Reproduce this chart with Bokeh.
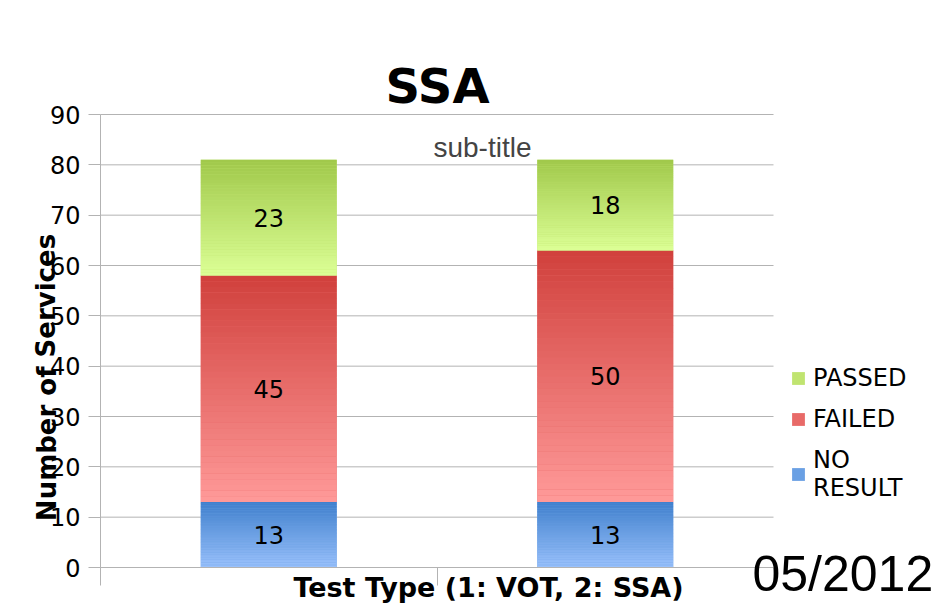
from bokeh.plotting import figure
from bokeh.models import Range1d, FixedTicker, Label, Legend, LegendItem, ColumnDataSource
from bokeh.embed import file_html
from bokeh.resources import INLINE
from bokeh.core.properties import value

# ---- data ----
categories = ["1", "2"]
no_result = [13, 13]
failed = [45, 50]
passed = [23, 18]
series_names = ["NO RESULT", "FAILED", "PASSED"]
y_ticks = [0, 10, 20, 30, 40, 50, 60, 70, 80, 90]
chart_title = "SSA"
sub_title = "sub-title"
x_title = "Test Type (1: VOT, 2: SSA)"
y_title = "Number of Services"
date_text = "05/2012"

# ---- style / layout ----
W, H = 951, 613
PLOT_L, PLOT_R, PLOT_T, PLOT_B = 100, 773, 114, 567   # plot area in canvas pixels
colors_top = ["#3f7fcc", "#d0403c", "#a0c84a"]
colors_bot = ["#9bc2fc", "#ff9a99", "#dcff96"]
colors_mid = ["#6aa0e4", "#e86a68", "#c0e470"]
BAR_W = 0.404
N_SLICES = 40
GRAY = "#b3b3b3"


def mix(c1, c2, t):
    a = [int(c1[i:i + 2], 16) for i in (1, 3, 5)]
    b = [int(c2[i:i + 2], 16) for i in (1, 3, 5)]
    return "#%02x%02x%02x" % tuple(round(a[k] + (b[k] - a[k]) * t) for k in range(3))


n_cat = len(categories)
y_max = y_ticks[-1]
xpx = (PLOT_R - PLOT_L) / n_cat          # pixels per category
ypx = (PLOT_B - PLOT_T) / y_max          # pixels per unit
x_range = Range1d(-PLOT_L / xpx, (W - PLOT_L) / xpx)
y_range = Range1d(-(H - PLOT_B) / ypx, y_max + PLOT_T / ypx)

p = figure(width=W, height=H, x_range=x_range, y_range=y_range,
           output_backend="svg", toolbar_location=None, min_border=0)
p.title = None
p.outline_line_color = None
p.background_fill_color = "white"
p.border_fill_color = "white"
p.xgrid.grid_line_color = None
p.ygrid.grid_line_color = None

# horizontal grid lines across the plot area
p.segment(x0=[0] * len(y_ticks), x1=[n_cat] * len(y_ticks), y0=y_ticks, y1=y_ticks,
          line_color=GRAY, line_width=1, level="underlay")

xs = [i + 0.5 for i in range(n_cat)]
stack = [no_result, failed, passed]

legend_items = []
bottoms = [0] * n_cat
for s, vals in enumerate(stack):
    tops = [b + v for b, v in zip(bottoms, vals)]
    r = p.vbar(x=xs, bottom=bottoms, top=tops, width=BAR_W,
               fill_color=colors_mid[s], line_color=None)
    gx, gb, gt, gc = [], [], [], []
    for i in range(n_cat):
        for k in range(N_SLICES):
            gx.append(xs[i])
            gb.append(bottoms[i] + vals[i] * k / N_SLICES)
            gt.append(bottoms[i] + vals[i] * (k + 1) / N_SLICES + 0.02)
            gc.append(mix(colors_bot[s], colors_top[s], (k + 0.5) / N_SLICES))
    src = ColumnDataSource(dict(x=gx, bottom=gb, top=gt, color=gc))
    p.vbar(x="x", bottom="bottom", top="top", width=BAR_W, fill_color="color",
           line_color=None, source=src)
    p.text(x=xs, y=[b + v / 2 for b, v in zip(bottoms, vals)], text=[str(v) for v in vals],
           text_align="center", text_baseline="middle", text_font=value("DejaVu Sans"),
           text_font_size="24px", text_color="black")
    legend_items.append(LegendItem(label=series_names[s], renderers=[r]))
    bottoms = tops

# axes drawn at data zero
yax = p.yaxis[0]
yax.fixed_location = 0
yax.bounds = (0, y_max)
yax.ticker = FixedTicker(ticks=y_ticks)
yax.major_tick_out = 12
yax.major_tick_in = 0
yax.minor_tick_line_color = None
yax.axis_line_color = GRAY
yax.major_tick_line_color = GRAY
yax.major_label_text_font = "DejaVu Sans"
yax.major_label_text_font_size = "24px"
yax.major_label_text_color = "black"
yax.major_label_standoff = 8

xax = p.xaxis[0]
xax.fixed_location = 0
xax.bounds = (0, n_cat)
xax.ticker = FixedTicker(ticks=list(range(n_cat + 1)))
xax.major_tick_out = 18
xax.major_tick_in = 0
xax.minor_tick_line_color = None
xax.axis_line_color = GRAY
xax.major_tick_line_color = GRAY
xax.major_label_overrides = {i: "" for i in range(n_cat + 1)}

# legend
legend_items[0].label = value("NO\nRESULT")
legend = Legend(items=list(reversed(legend_items)), location=(790, H - 502),
                orientation="vertical", padding=0, margin=0, spacing=13,
                glyph_width=16, glyph_height=16, label_standoff=7,
                border_line_color=None, background_fill_alpha=0,
                label_text_font="DejaVu Sans", label_text_font_size="24px",
                label_text_color="black")
p.add_layout(legend, "center")

# texts (screen units: pixels from bottom-left of the canvas)
p.add_layout(Label(x=437, y=H - 85, x_units="screen", y_units="screen", text=chart_title,
                   text_align="center", text_baseline="middle",
                   text_font="DejaVu Sans", text_font_size="48px", text_font_style="bold",
                   text_color="black"))
p.add_layout(Label(x=482, y=H - 147, x_units="screen", y_units="screen", text=sub_title,
                   text_align="center", text_baseline="middle",
                   text_font="Liberation Sans", text_font_size="28px", text_color="#444444"))
p.add_layout(Label(x=488, y=H - 587, x_units="screen", y_units="screen", text=x_title,
                   text_align="center", text_baseline="middle",
                   text_font="DejaVu Sans", text_font_size="27px", text_font_style="bold",
                   text_color="black"))
p.add_layout(Label(x=46, y=H - 377, x_units="screen", y_units="screen", text=y_title,
                   angle=1.5708, text_align="center", text_baseline="middle",
                   text_font="DejaVu Sans", text_font_size="26px", text_font_style="bold",
                   text_color="black"))
p.add_layout(Label(x=752, y=H - 573, x_units="screen", y_units="screen", text=date_text,
                   text_align="left", text_baseline="middle",
                   text_font="Liberation Sans", text_font_size="50px",
                   text_color="black"))

open("out.html", "w").write(file_html(p, INLINE))
